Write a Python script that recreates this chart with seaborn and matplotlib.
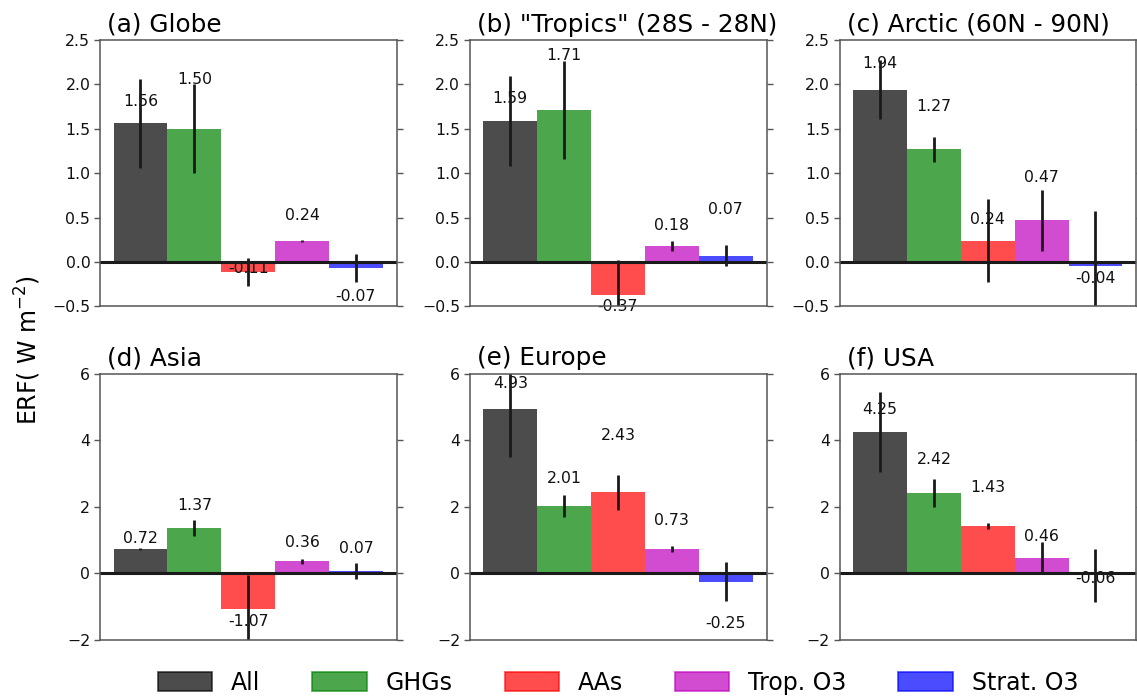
import matplotlib
matplotlib.use("Agg")
import matplotlib.pyplot as plt
import seaborn as sns
import pandas as pd
import numpy as np
from matplotlib.patches import Patch

# ---- data ----
forcings = ["All", "GHGs", "AAs", "Trop. O3", "Strat. O3"]
colors = ["#000000", "#008000", "#ff0000", "#bf00bf", "#0000ff"]
titles = ["(a) Globe", "(b) \"Tropics\" (28S - 28N)", "(c) Arctic (60N - 90N)",
          "(d) Asia", "(e) Europe", "(f) USA"]

erf_globe = [1.56, 1.50, -0.11, 0.24, -0.07]
erf_tropics = [1.59, 1.71, -0.37, 0.18, 0.07]
erf_arctic = [1.94, 1.27, 0.24, 0.47, -0.04]
erf_asia = [0.72, 1.37, -1.07, 0.36, 0.07]
erf_europe = [4.93, 2.01, 2.43, 0.73, -0.25]
erf_usa = [4.25, 2.42, 1.43, 0.46, -0.06]

err_globe = [0.50, 0.50, 0.155, 0.01, 0.16]
err_tropics = [0.51, 0.55, 0.39, 0.06, 0.12]
err_arctic = [0.33, 0.14, 0.47, 0.345, 0.61]
err_asia = [0.03, 0.24, 1.02, 0.085, 0.25]
err_europe = [1.43, 0.33, 0.53, 0.08, 0.58]
err_usa = [1.20, 0.42, 0.09, 0.47, 0.785]

# vertical positions of the value annotations
lab_globe = [1.81, 2.05, -0.075, 0.526, -0.387]
lab_tropics = [1.84, 2.32, -0.50, 0.41, 0.59]
lab_arctic = [2.23, 1.75, 0.48, 0.95, -0.19]
lab_asia = [1.05, 2.05, -1.45, 0.92, 0.75]
lab_europe = [5.70, 2.85, 4.15, 1.58, -1.50]
lab_usa = [4.93, 3.42, 2.57, 1.10, -0.15]

top_ticks = [-0.5, 0.0, 0.5, 1.0, 1.5, 2.0, 2.5]
bottom_ticks = [-2, 0, 2, 4, 6]

values = [erf_globe, erf_tropics, erf_arctic, erf_asia, erf_europe, erf_usa]
errors = [err_globe, err_tropics, err_arctic, err_asia, err_europe, err_usa]
labels_y = [lab_globe, lab_tropics, lab_arctic, lab_asia, lab_europe, lab_usa]

# ---- style ----
sns.set_theme(style="white")
plt.rcParams["font.family"] = ["DejaVu Sans"]
plt.rcParams["axes.unicode_minus"] = True
plt.rcParams["text.color"] = "black"
plt.rcParams["axes.titlecolor"] = "black"

fig, axes = plt.subplots(2, 3, figsize=(11.37, 6.99), dpi=100)
fig.subplots_adjust(left=0.088, right=0.9995, top=0.9428, bottom=0.0844,
                    wspace=0.2458, hspace=0.252)

palette = dict(zip(forcings, colors))

for k, ax in enumerate(axes.flat):
    df = pd.DataFrame({"forcing": forcings, "erf": values[k], "err": errors[k]})
    sns.barplot(data=df, x="forcing", y="erf", hue="forcing", palette=palette,
                order=forcings, hue_order=forcings, dodge=False, legend=False,
                width=1.0, alpha=0.7, linewidth=0, saturation=1, ax=ax,
                zorder=1)
    ax.errorbar(np.arange(len(forcings)), df["erf"], yerr=df["err"], fmt="none",
                ecolor="k", elinewidth=2.0, capsize=0, zorder=2.2)
    ax.axhline(0, color="k", lw=2.2, zorder=2.3)
    for i, (v, ly) in enumerate(zip(values[k], labels_y[k])):
        ax.text(i, ly, f"{v:.2f}", ha="center", va="center", fontsize=11.3,
                color="#111111", zorder=1.5)
    ax.set_xlim(-0.75, 4.76)
    if k < 3:
        ax.set_ylim(-0.5, 2.5)
        ax.set_yticks(top_ticks)
        ax.set_yticklabels([f"{t:.1f}".replace("-", "\u2212") for t in top_ticks])
    else:
        ax.set_ylim(-2, 6)
        ax.set_yticks(bottom_ticks)
        ax.set_yticklabels([f"{t}".replace("-", "\u2212") for t in bottom_ticks])
    ax.set_xticks([])
    ax.set_xlabel("")
    ax.set_ylabel("")
    ax.tick_params(axis="y", which="both", left=True, right=True, direction="out",
                   length=4, width=1.0, color="#555555", labelsize=11.3,
                   labelcolor="#111111", pad=3)
    for sp in ax.spines.values():
        sp.set_visible(True)
        sp.set_color("#555555")
        sp.set_linewidth(1.1)
    ax.set_title(titles[k], loc="left", fontsize=17.8, pad=6, x=0.025,
                 color="black")

fig.text(28 / 1137, 1 - 350 / 699, "ERF( W m$^{-2}$)", rotation=90,
         ha="center", va="center", fontsize=17, color="black")

handles = [Patch(facecolor=c, edgecolor=c, alpha=0.7, lw=1.2) for c in colors]
fig.legend(handles, forcings, loc="center", ncol=5, frameon=False,
           bbox_to_anchor=(618 / 1137, 1 - 683 / 699), fontsize=17,
           handlelength=2.3, handleheight=0.85, handletextpad=0.8,
           columnspacing=2.2, labelcolor="black")

fig.savefig("out.png", dpi=100)
